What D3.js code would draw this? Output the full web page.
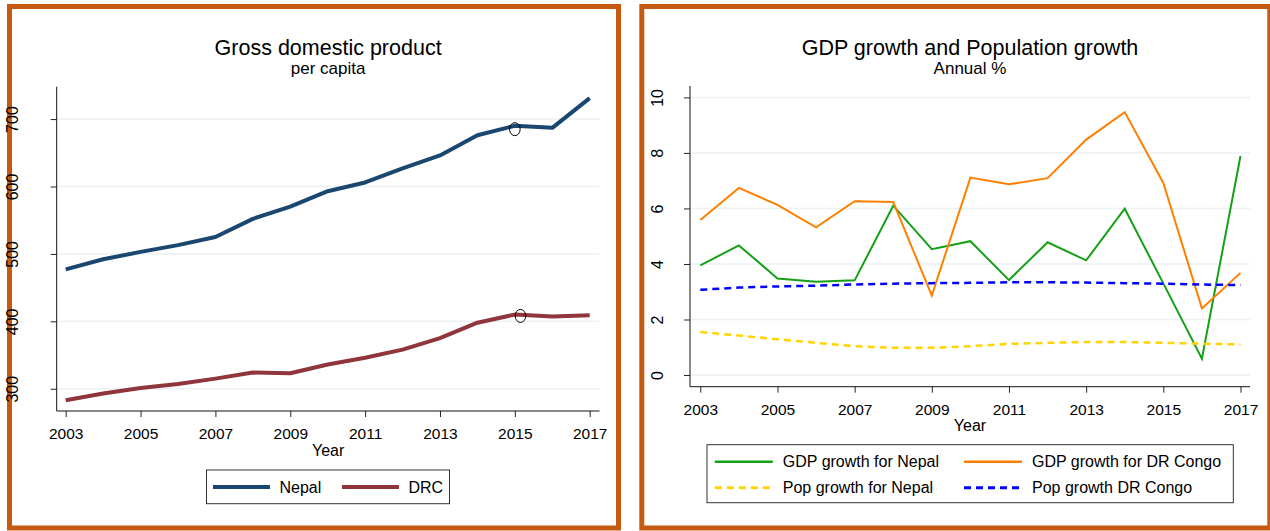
<!DOCTYPE html>
<html>
<head>
<meta charset="utf-8">
<script src="https://cdn.jsdelivr.net/npm/d3@7"></script>
<style>
  body { margin: 0; background: #fff; }
  svg { display: block; font-family: 'Liberation Sans', Arial, sans-serif; }
</style>
</head>
<body>
<div id="chart"></div>
<script>
  // Data
  const years = [2003, 2004, 2005, 2006, 2007, 2008, 2009, 2010, 2011, 2012, 2013, 2014, 2015, 2016, 2017];
  const yearTicks = [2003, 2005, 2007, 2009, 2011, 2013, 2015, 2017];

  // GDP per capita (left panel)
  const gdpPcNepal = [477, 492, 503, 513, 525, 552, 570, 593, 606, 627, 646, 676, 690, 687, 731];
  const gdpPcDrc = [283, 293, 301, 307, 315, 324, 323, 336, 346, 358, 375, 398, 410, 407, 409];
  const gdpPcTicks = [300, 400, 500, 600, 700];
  // the two hand-drawn circles: [year, value]
  const gdpPcMarks = [[2015, 685], [2015.15, 408]];

  // Annual growth % (right panel)
  const gdpGrowthNepal = [3.95, 4.67, 3.48, 3.36, 3.41, 6.10, 4.53, 4.82, 3.42, 4.78, 4.13, 5.99, 3.30, 0.59, 7.89];
  const gdpGrowthDrc = [5.58, 6.74, 6.13, 5.32, 6.26, 6.23, 2.86, 7.11, 6.87, 7.09, 8.48, 9.47, 6.92, 2.40, 3.68];
  const popGrowthNepal = [1.55, 1.42, 1.29, 1.16, 1.04, 0.98, 0.98, 1.04, 1.12, 1.16, 1.19, 1.19, 1.16, 1.13, 1.10];
  const popGrowthDrc = [3.07, 3.15, 3.19, 3.22, 3.26, 3.29, 3.31, 3.32, 3.34, 3.34, 3.33, 3.31, 3.29, 3.26, 3.24];
  const growthTicks = [0, 2, 4, 6, 8, 10];

  const svg = d3.select('#chart')
    .append('svg')
    .attr('width', 1270)
    .attr('height', 531);

  // orange frames round each panel
  function frame(x, y, w, h) {
    svg.append('rect')
      .attr('x', x)
      .attr('y', y)
      .attr('width', w)
      .attr('height', h)
      .attr('fill', '#fff')
      .attr('stroke', '#c55a11')
      .attr('stroke-width', 5);
  }

  // gridlines, axes, titles - shared by both panels
  function drawFrame(box, x, y, yTicks, yLabelX, title, subtitle) {
    const g = svg.append('g');

    g.selectAll('.grid')
      .data(yTicks)
      .enter()
      .append('line')
      .attr('x1', box.left + 1)
      .attr('x2', box.right)
      .attr('y1', d => y(d))
      .attr('y2', d => y(d))
      .attr('stroke', '#eaf2f3')
      .attr('stroke-width', 1.5);

    const yAxis = g.append('g')
      .attr('transform', `translate(${box.left},0)`)
      .call(d3.axisLeft(y).tickValues(yTicks).tickSize(6));
    yAxis.select('.domain').remove();
    yAxis.selectAll('line').attr('stroke', '#222');
    yAxis.selectAll('text')
      .attr('x', 0)
      .attr('dy', 0)
      .attr('text-anchor', 'middle')
      .attr('transform', `translate(${yLabelX - box.left},0) rotate(-90)`)
      .style('font-size', '16px')
      .style('font-family', 'inherit');

    const xAxis = g.append('g')
      .attr('transform', `translate(0,${box.bottom})`)
      .call(d3.axisBottom(x).tickValues(yearTicks).tickFormat(d3.format('d')).tickSize(6));
    xAxis.select('.domain').remove();
    xAxis.selectAll('line').attr('stroke', '#222');
    xAxis.selectAll('text')
      .attr('y', 28)
      .attr('dy', 0)
      .style('font-size', '15.5px')
      .style('font-family', 'inherit');

    // axis lines run the full plot region
    g.append('line')
      .attr('x1', box.left).attr('x2', box.left)
      .attr('y1', box.top).attr('y2', box.bottom)
      .attr('stroke', '#111');
    g.append('line')
      .attr('x1', box.left).attr('x2', box.right)
      .attr('y1', box.bottom).attr('y2', box.bottom)
      .attr('stroke', '#111');

    const cx = (box.left + box.right) / 2;
    g.append('text')
      .attr('x', cx)
      .attr('y', box.bottom + 44.5)
      .attr('text-anchor', 'middle')
      .style('font-size', '16px')
      .text('Year');

    g.append('text')
      .attr('x', cx)
      .attr('y', 54.5)
      .attr('text-anchor', 'middle')
      .style('font-size', '21.5px')
      .text(title);

    g.append('text')
      .attr('x', cx)
      .attr('y', 73.5)
      .attr('text-anchor', 'middle')
      .style('font-size', '17px')
      .text(subtitle);
  }

  function legendBox(x, y, w, h) {
    svg.append('rect')
      .attr('x', x)
      .attr('y', y)
      .attr('width', w)
      .attr('height', h)
      .attr('fill', '#fff')
      .attr('stroke', '#333')
      .attr('stroke-width', 1);
  }

  frame(9.5, 6.5, 609, 521.5);
  frame(641.8, 6.5, 628, 521.5);

  // ---- Left: GDP per capita ----
  const boxL = { left: 56.7, right: 599.5, top: 86.7, bottom: 411 };
  const xL = d3.scaleLinear().domain([2003, 2017]).range([65.7, 589.7]);
  const yL = d3.scaleLinear().domain([267, 748]).range([boxL.bottom, boxL.top]);

  drawFrame(boxL, xL, yL, gdpPcTicks, 18.3, 'Gross domestic product', 'per capita');

  const leftSeries = [
    { name: 'Nepal', values: gdpPcNepal, color: '#1a476f' },
    { name: 'DRC', values: gdpPcDrc, color: '#90353b' }
  ];

  const lineL = d3.line()
    .x((d, i) => xL(years[i]))
    .y(d => yL(d));

  svg.selectAll('.gdppc')
    .data(leftSeries)
    .enter()
    .append('path')
    .attr('d', d => lineL(d.values))
    .attr('fill', 'none')
    .attr('stroke', d => d.color)
    .attr('stroke-width', 4)
    .attr('stroke-linejoin', 'round');

  svg.selectAll('.mark')
    .data(gdpPcMarks)
    .enter()
    .append('ellipse')
    .attr('cx', d => xL(d[0]))
    .attr('cy', d => yL(d[1]))
    .attr('rx', 5.3)
    .attr('ry', 6.5)
    .attr('fill', 'none')
    .attr('stroke', '#000')
    .attr('stroke-width', 1);

  legendBox(206.5, 470, 243, 33.7);
  const legL = svg.selectAll('.legL')
    .data(leftSeries)
    .enter()
    .append('g')
    .attr('transform', (d, i) => `translate(${[213, 342][i]}, 487)`);
  legL.append('line')
    .attr('x1', 0).attr('x2', 57)
    .attr('stroke', d => d.color)
    .attr('stroke-width', 4);
  legL.append('text')
    .attr('x', 66.5)
    .attr('dy', '0.36em')
    .style('font-size', '16px')
    .text(d => d.name);

  // ---- Right: growth rates ----
  const boxR = { left: 690, right: 1250, top: 86, bottom: 386.7 };
  const xR = d3.scaleLinear().domain([2003, 2017]).range([700.3, 1240.5]);
  const yR = d3.scaleLinear().domain([-0.42, 10.41]).range([boxR.bottom, boxR.top]);

  drawFrame(boxR, xR, yR, growthTicks, 663.3, 'GDP growth and Population growth', 'Annual %');

  const rightSeries = [
    { name: 'GDP growth for Nepal', values: gdpGrowthNepal, color: '#16a016', dash: null, width: 2 },
    { name: 'GDP growth for DR Congo', values: gdpGrowthDrc, color: '#ff8000', dash: null, width: 2 },
    { name: 'Pop growth for Nepal', values: popGrowthNepal, color: '#ffd400', dash: '7,5', width: 2.5 },
    { name: 'Pop growth DR Congo', values: popGrowthDrc, color: '#0000ff', dash: '7,5', width: 2.5 }
  ];

  const lineR = d3.line()
    .x((d, i) => xR(years[i]))
    .y(d => yR(d));

  svg.selectAll('.growth')
    .data(rightSeries)
    .enter()
    .append('path')
    .attr('d', d => lineR(d.values))
    .attr('fill', 'none')
    .attr('stroke', d => d.color)
    .attr('stroke-width', d => d.width)
    .attr('stroke-dasharray', d => d.dash);

  legendBox(707, 444.7, 526.3, 58);
  const legR = svg.selectAll('.legR')
    .data(rightSeries)
    .enter()
    .append('g')
    .attr('transform', (d, i) => `translate(${i % 2 ? 964 : 714.8}, ${i < 2 ? 461.7 : 487.7})`);
  legR.append('line')
    .attr('x1', 0).attr('x2', 58)
    .attr('stroke', d => d.color)
    .attr('stroke-width', d => d.width + 0.5)
    .attr('stroke-dasharray', d => d.dash);
  legR.append('text')
    .attr('x', 68)
    .attr('dy', '0.36em')
    .style('font-size', '16px')
    .text(d => d.name);
</script>
</body>
</html>
